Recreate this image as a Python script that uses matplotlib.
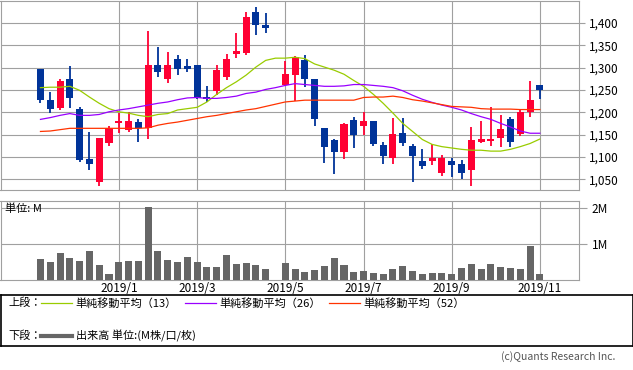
import numpy as np
import matplotlib
matplotlib.use('Agg')
import matplotlib.pyplot as plt

plt.rcParams['font.family'] = ['Noto Sans CJK JP', 'DejaVu Sans']

# weekly candles, slot 24 is the Golden Week gap (no trading)
opens = [1296, 1227, 1209, 1274, 1207, 1095, 1044, 1132, 1176, 1160, 1178, 1164, 1305, 1274,
         1320, 1303, 1305, 1234, 1247, 1279, 1330, 1332, 1425, 1396, np.nan, 1260, 1283, 1316,
         1274, 1164, 1138, 1112, 1182, 1170, 1180, 1127, 1098, 1153, 1125, 1091, 1092, 1065,
         1091, 1084, 1071, 1133, 1135, 1143, 1185, 1151, 1201, 1260]
closes = [1228, 1207, 1269, 1232, 1093, 1084, 1142, 1164, 1180, 1180, 1164, 1305, 1290, 1305,
          1297, 1296, 1232, 1230, 1294, 1320, 1336, 1414, 1395, 1388, np.nan, 1285, 1323, 1274,
          1184, 1123, 1112, 1173, 1148, 1180, 1129, 1103, 1151, 1132, 1101, 1080, 1098, 1098,
          1083, 1063, 1138, 1141, 1141, 1162, 1133, 1200, 1228, 1250]
highs = [1297, 1245, 1274, 1303, 1211, 1155, 1143, 1169, 1198, 1200, 1185, 1381, 1347, 1334,
         1329, 1318, 1305, 1258, 1305, 1331, 1378, 1425, 1436, 1423, np.nan, 1314, 1325, 1329,
         1275, 1165, 1139, 1175, 1189, 1200, 1181, 1133, 1187, 1187, 1129, 1118, 1129, 1104,
         1098, 1093, 1167, 1181, 1211, 1193, 1190, 1204, 1271, 1261]
lows = [1221, 1198, 1204, 1209, 1089, 1071, 1035, 1124, 1153, 1155, 1133, 1140, 1278, 1265,
        1283, 1289, 1230, 1223, 1238, 1272, 1321, 1329, 1372, 1377, np.nan, 1258, 1225, 1256,
        1169, 1086, 1061, 1095, 1121, 1149, 1125, 1084, 1085, 1125, 1045, 1074, 1083, 1058,
        1056, 1051, 1036, 1131, 1125, 1122, 1123, 1147, 1190, 1230]
volume_m = [0.57, 0.48, 0.73, 0.59, 0.51, 0.79, 0.40, 0.15, 0.48, 0.51, 0.51, 2.04, 0.79, 0.54,
            0.48, 0.62, 0.48, 0.34, 0.34, 0.68, 0.43, 0.45, 0.40, 0.29, np.nan, 0.45, 0.29, 0.20,
            0.26, 0.37, 0.59, 0.40, 0.20, 0.23, 0.18, 0.15, 0.29, 0.37, 0.23, 0.15, 0.18, 0.18,
            0.15, 0.31, 0.43, 0.29, 0.43, 0.34, 0.31, 0.29, 0.95, 0.15]
ma13 = [1255, 1256, 1256, 1258, 1249, 1234, 1220, 1208, 1201, 1198, 1193, 1190, 1195, 1197,
        1205, 1208, 1211, 1223, 1240, 1255, 1268, 1283, 1301, 1316, 1321, 1321, 1323, 1320,
        1308, 1301, 1294, 1285, 1271, 1258, 1240, 1220, 1198, 1175, 1157, 1139, 1128, 1123,
        1120, 1117, 1115, 1115, 1113, 1113, 1117, 1123, 1130, 1140]
ma26 = [1184, 1188, 1193, 1197, 1193, 1193, 1195, 1201, 1205, 1208, 1212, 1216, 1220, 1223,
        1228, 1232, 1233, 1231, 1231, 1233, 1236, 1242, 1245, 1251, 1255, 1260, 1264, 1262,
        1260, 1258, 1258, 1259, 1262, 1262, 1260, 1258, 1255, 1248, 1238, 1229, 1222, 1216,
        1211, 1205, 1197, 1190, 1184, 1175, 1167, 1158, 1153, 1153]
ma52 = [1157, 1158, 1161, 1164, 1164, 1164, 1164, 1164, 1164, 1164, 1164, 1165, 1171, 1175,
        1178, 1182, 1186, 1190, 1193, 1197, 1201, 1205, 1208, 1213, 1218, 1223, 1225, 1227,
        1227, 1227, 1227, 1227, 1227, 1233, 1234, 1234, 1236, 1233, 1228, 1225, 1221, 1217,
        1213, 1212, 1211, 1208, 1207, 1207, 1207, 1206, 1206, 1206]
month_pos = [8, 16, 25, 33, 42, 51]
month_labels = ['2019/1', '2019/3', '2019/5', '2019/7', '2019/9', '2019/11']
price_ticks = [1050, 1100, 1150, 1200, 1250, 1300, 1350, 1400]

RED, BLUE, GRAY = '#ff0033', '#003399', '#666666'
GRID = '#a0a0a0'
W, H = 633, 370

o, c, hi, lo = (np.array(a, dtype=float) for a in (opens, closes, highs, lows))
x = np.arange(len(o))
up = c >= o
col = np.where(up, RED, BLUE)

fig = plt.figure(figsize=(W / 100, H / 100), dpi=100)

def px_axes(x0, y0, x1, y1):
    return fig.add_axes([x0 / W, 1 - y1 / H, (x1 - x0) / W, (y1 - y0) / H])

XL = (-40 / 9.8, 539 / 9.8)

# --- upper: candles + MAs ---
ax = px_axes(0.5, 0.5, 579, 190)
ok = ~np.isnan(o)
ax.vlines(x[ok], lo[ok], hi[ok], colors=col[ok], lw=1.3, zorder=3)
ax.bar(x[ok], np.maximum(np.abs(c - o), 1.2)[ok], bottom=np.minimum(o, c)[ok],
       width=0.72, color=col[ok], zorder=4)
ax.plot(x, ma13, color='#99cc00', lw=0.9, zorder=5)
ax.plot(x, ma26, color='#9900ff', lw=0.9, zorder=5)
ax.plot(x, ma52, color='#ff3300', lw=0.9, zorder=5)
ax.set_xlim(*XL)
ax.set_ylim(1026, 1450)
ax.set_yticks(price_ticks)
ax.set_yticklabels([f'{v:,}' for v in price_ticks])
ax.set_xticks(month_pos)
ax.set_xticklabels([])
ax.yaxis.tick_right()
ax.tick_params(axis='y', length=4, color=GRID, pad=3, labelsize=8.5)
ax.tick_params(axis='x', length=0)
ax.grid(True, color=GRID, lw=0.8)
ax.set_axisbelow(True)
for s in ax.spines.values():
    s.set_color(GRID)
    s.set_linewidth(0.8)

# --- lower: volume ---
av = px_axes(0.5, 201, 579, 279.5)
v = np.array(volume_m)
okv = ~np.isnan(v)
av.bar(x[okv], v[okv] * 1e6, width=0.72, color=GRAY, zorder=3)
av.set_xlim(*XL)
av.set_ylim(0, 2.2e6)
av.set_yticks([1e6, 2e6])
av.set_yticklabels(['1M', '2M'])
av.set_xticks(month_pos)
av.set_xticklabels(month_labels)
av.yaxis.tick_right()
av.tick_params(axis='y', length=6, color=GRID, pad=3, labelsize=8.5)
av.tick_params(axis='x', length=0, pad=2, labelsize=8.5)
av.grid(True, color=GRID, lw=0.8)
av.set_axisbelow(True)
for s in av.spines.values():
    s.set_color(GRID)
    s.set_linewidth(0.8)
av.text(0.008, 0.9, '単位: M', transform=av.transAxes, fontsize=8, va='center', ha='left')

# --- legend box ---
al = px_axes(0.5, 295, 632.5, 346)
al.set_xlim(0, 632)
al.set_ylim(51, 0)
al.set_xticks([])
al.set_yticks([])
for s in al.spines.values():
    s.set_color('black')
    s.set_linewidth(1.2)
ly1, ly2 = 8, 41
al.text(8, ly1, '上段：', fontsize=8, va='center')
al.text(8, ly2, '下段：', fontsize=8, va='center')
for x0, clr, lbl in [(40, '#99cc00', '単純移動平均（13）'),
                     (184, '#9900ff', '単純移動平均（26）'),
                     (328, '#ff3300', '単純移動平均（52）')]:
    al.plot([x0, x0 + 31], [ly1, ly1], color=clr, lw=0.9)
    al.text(x0 + 35, ly1, lbl, fontsize=8, va='center')
al.plot([40, 71], [ly2, ly2], color=GRAY, lw=3)
al.text(75, ly2, '出来高 単位:(M株/口/枚)', fontsize=8, va='center')

fig.text(615 / W, 1 - 357 / H, '(c)Quants Research Inc.', fontsize=7.5, color='#555555',
         ha='right', va='center')

fig.savefig('out.png', dpi=100)
